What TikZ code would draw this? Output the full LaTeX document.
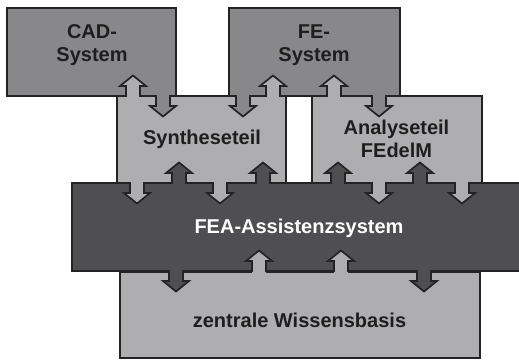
\documentclass[tikz,border=0pt]{standalone}
\usepackage{fontspec}
\setmainfont{Liberation Sans}
\definecolor{midgray}{HTML}{88888B}
\definecolor{lightgray2}{HTML}{AEAEB1}
\definecolor{darkgray2}{HTML}{4F4F51}
\definecolor{edge}{HTML}{232323}
\definecolor{txt}{HTML}{1E1E1E}
\tikzset{
  edgeline/.style={draw=edge, line width=1.7pt},
  boxstyle/.style={edgeline, rectangle, inner sep=0pt, outer sep=0pt},
  labeltext/.style={font=\fontsize{20}{23}\selectfont\bfseries, text=txt, align=center, inner sep=0pt},
}
\newcommand\barrow[4]{%
  \fill[#4] ({#1-7},{#2-3*(#3)}) -- ({#1-7},{#2+10*(#3)}) -- ({#1-13},{#2+10*(#3)}) -- ({#1},{#2+20.5*(#3)}) -- ({#1+13},{#2+10*(#3)}) -- ({#1+7},{#2+10*(#3)}) -- ({#1+7},{#2-3*(#3)}) -- cycle;
  \draw[edgeline, line cap=rect] ({#1-7},{#2}) -- ({#1-7},{#2+10*(#3)}) -- ({#1-13},{#2+10*(#3)}) -- ({#1},{#2+20.5*(#3)}) -- ({#1+13},{#2+10*(#3)}) -- ({#1+7},{#2+10*(#3)}) -- ({#1+7},{#2});
}
\begin{document}
\begin{tikzpicture}[x=1pt,y=-1pt]
\useasboundingbox (0,0) rectangle (519,360);
% boxes
\node[boxstyle, fill=lightgray2, minimum width=169pt, minimum height=87pt] (syn) at (201.5,139.5) {};
\node[boxstyle, fill=lightgray2, minimum width=170pt, minimum height=87pt] (ana) at (397,139.5) {};
\node[boxstyle, fill=lightgray2, minimum width=360pt, minimum height=86pt] (wb) at (300,315) {};
\node[boxstyle, fill=midgray, minimum width=169pt, minimum height=88pt] (cad) at (91.5,52) {};
\node[boxstyle, fill=midgray, minimum width=171pt, minimum height=88pt] (fe) at (314.5,52) {};
\node[boxstyle, fill=darkgray2, minimum width=449pt, minimum height=88pt] (fea) at (296.5,227) {};
% arrows top
\barrow{133}{96}{-1}{lightgray2}
\barrow{163}{96}{1}{midgray}
\barrow{243}{96}{1}{midgray}
\barrow{273}{96}{-1}{lightgray2}
\barrow{334}{96}{-1}{lightgray2}
\barrow{379}{96}{1}{midgray}
% arrows middle
\barrow{137}{183}{1}{lightgray2}
\barrow{179}{183}{-1}{darkgray2}
\barrow{220}{183}{1}{lightgray2}
\barrow{263}{183}{-1}{darkgray2}
\barrow{338}{183}{-1}{darkgray2}
\barrow{379}{183}{1}{lightgray2}
\barrow{420}{183}{-1}{darkgray2}
\barrow{462}{183}{1}{lightgray2}
% arrows bottom
\barrow{176}{271}{1}{darkgray2}
\barrow{259}{271}{-1}{lightgray2}
\barrow{341}{271}{-1}{lightgray2}
\barrow{424}{271}{1}{darkgray2}
% texts
\node[labeltext] (cadt) at (92,45) {CAD-\\System};
\node[labeltext] (fet) at (314,45) {FE-\\System};
\node[labeltext, anchor=base] (synt) at (202,144) {Syntheseteil};
\node[labeltext] (anat) at (396.5,139) {Analyseteil\\FEdelM};
\node[labeltext, anchor=base, text=white] (feat) at (299,233) {FEA-Assistenzsystem};
\node[labeltext, anchor=base] (wbt) at (299.5,327) {zentrale Wissensbasis};
\end{tikzpicture}
\end{document}
